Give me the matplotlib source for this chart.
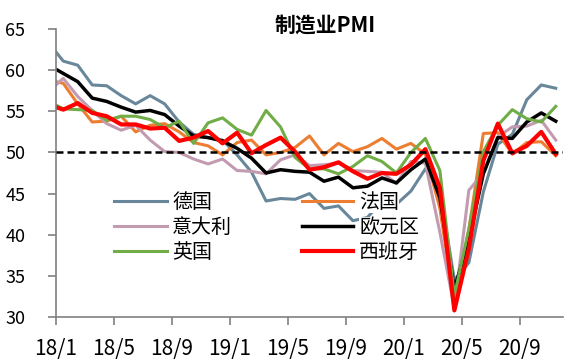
import matplotlib
matplotlib.use('Agg')
import matplotlib.pyplot as plt
import numpy as np

plt.rcParams['font.family'] = ['Noto Sans CJK SC', 'DejaVu Sans']

# monthly manufacturing PMI, 2017/12 .. 2020/11
germany = [63.3, 61.1, 60.6, 58.2, 58.1, 56.9, 55.9, 56.9, 55.9, 53.7, 52.2, 51.8, 51.5,
           49.7, 47.6, 44.1, 44.4, 44.3, 45.0, 43.2, 43.5, 41.7, 42.1, 44.1, 43.7,
           45.3, 48.0, 45.4, 34.5, 36.6, 45.2, 51.0, 52.2, 56.4, 58.2, 57.8]
france = [58.8, 58.4, 55.9, 53.7, 53.8, 54.4, 52.5, 53.3, 53.5, 52.5, 51.2, 50.8, 49.7,
          51.2, 51.5, 49.7, 50.0, 50.6, 52.0, 49.7, 51.1, 50.1, 50.7, 51.7, 50.4,
          51.1, 49.8, 43.2, 31.5, 40.6, 52.3, 52.4, 49.8, 51.2, 51.3, 49.6]
italy = [57.4, 59.0, 56.8, 55.1, 53.5, 52.7, 53.3, 51.5, 50.1, 50.0, 49.2, 48.6, 49.2,
         47.8, 47.7, 47.4, 49.1, 49.7, 48.4, 48.5, 48.7, 47.8, 47.7, 47.6, 46.2,
         48.9, 48.7, 40.3, 31.1, 45.4, 47.5, 51.9, 53.1, 53.2, 53.9, 51.5]
eurozone = [60.6, 59.6, 58.6, 56.6, 56.2, 55.5, 54.9, 55.1, 54.6, 53.2, 52.0, 51.8, 51.4,
            50.5, 49.3, 47.5, 47.9, 47.7, 47.6, 46.5, 47.0, 45.7, 45.9, 46.9, 46.3,
            47.9, 49.2, 44.5, 33.4, 39.4, 47.4, 51.8, 51.7, 53.7, 54.8, 53.8]
uk = [56.2, 55.3, 55.2, 55.1, 53.9, 54.4, 54.4, 54.0, 53.0, 53.8, 51.1, 53.6, 54.2,
      52.8, 52.1, 55.1, 53.1, 49.4, 48.0, 48.0, 47.4, 48.3, 49.6, 48.9, 47.5,
      50.0, 51.7, 47.8, 32.6, 40.7, 50.1, 53.3, 55.2, 54.1, 53.7, 55.6]
spain = [55.8, 55.2, 56.0, 54.8, 54.4, 53.4, 53.4, 52.9, 53.0, 51.4, 51.8, 52.6, 51.1,
         52.4, 49.9, 50.9, 51.8, 50.1, 47.9, 48.2, 48.8, 47.7, 46.8, 47.5, 47.4,
         48.5, 50.4, 45.7, 30.8, 38.3, 49.0, 53.5, 49.9, 50.8, 52.5, 49.8]

tick_labels = ['18/1', '18/5', '18/9', '19/1', '19/5', '19/9', '20/1', '20/5', '20/9']

# month index, 0 = 2018/1 (first value is 2017/12, cut off by the axis)
x = np.arange(len(germany)) - 1

fig = plt.figure(figsize=(5.72, 3.64), dpi=100)
ax = fig.add_axes([56/572, 1-317/364, (563-56)/572, (317-29)/364])

l_de, = ax.plot(x, germany, color='#68879A', lw=2.2, label='德国')
l_fr, = ax.plot(x, france, color='#ED7D31', lw=2.2, label='法国')
l_it, = ax.plot(x, italy, color='#C39BB0', lw=2.2, label='意大利')
l_ez, = ax.plot(x, eurozone, color='black', lw=2.5, label='欧元区')
l_uk, = ax.plot(x, uk, color='#70AD47', lw=2.2, label='英国')
l_es, = ax.plot(x, spain, color='#FF0000', lw=3.0, label='西班牙')
ax.axhline(50, color='black', lw=1.8, linestyle=(0, (2.8, 1.6)), zorder=5)

ax.set_xlim(-0.5, 34.5)
ax.set_ylim(30, 65)
ax.set_xticks(np.arange(len(tick_labels)) * 4 - 0.5)
ax.set_xticklabels(tick_labels, fontsize=15)
ax.set_yticks(np.arange(30, 66, 5))
ax.tick_params(axis='y', labelsize=13, length=6, width=1.2, color='#808080', pad=16)
ax.tick_params(axis='x', length=6, width=1.2, color='#808080', pad=9)
for s in ['top', 'right']:
    ax.spines[s].set_visible(False)
for s in ['left', 'bottom']:
    ax.spines[s].set_color('#808080')
    ax.spines[s].set_linewidth(1.2)

leg1 = fig.legend([l_de, l_it, l_uk], ['德国', '意大利', '英国'], loc='upper left',
                  bbox_to_anchor=(114/572, 1-192/364), frameon=False, fontsize=14.4,
                  handlelength=2.65, handletextpad=0.25, labelspacing=0.19,
                  borderpad=0, borderaxespad=0)
leg2 = fig.legend([l_fr, l_ez, l_es], ['法国', '欧元区', '西班牙'], loc='upper left',
                  bbox_to_anchor=(302/572, 1-192/364), frameon=False, fontsize=14.4,
                  handlelength=2.55, handletextpad=0.3, labelspacing=0.19,
                  borderpad=0, borderaxespad=0)
for leg in [leg1, leg2]:
    for t in leg.get_texts():
        t.set_bbox(dict(facecolor='white', edgecolor='none', pad=0))

fig.text(325/572, 1-25/364, '制造业PMI', ha='center', va='center',
         fontsize=15, fontweight='bold')

plt.savefig('out.png', dpi=100)
